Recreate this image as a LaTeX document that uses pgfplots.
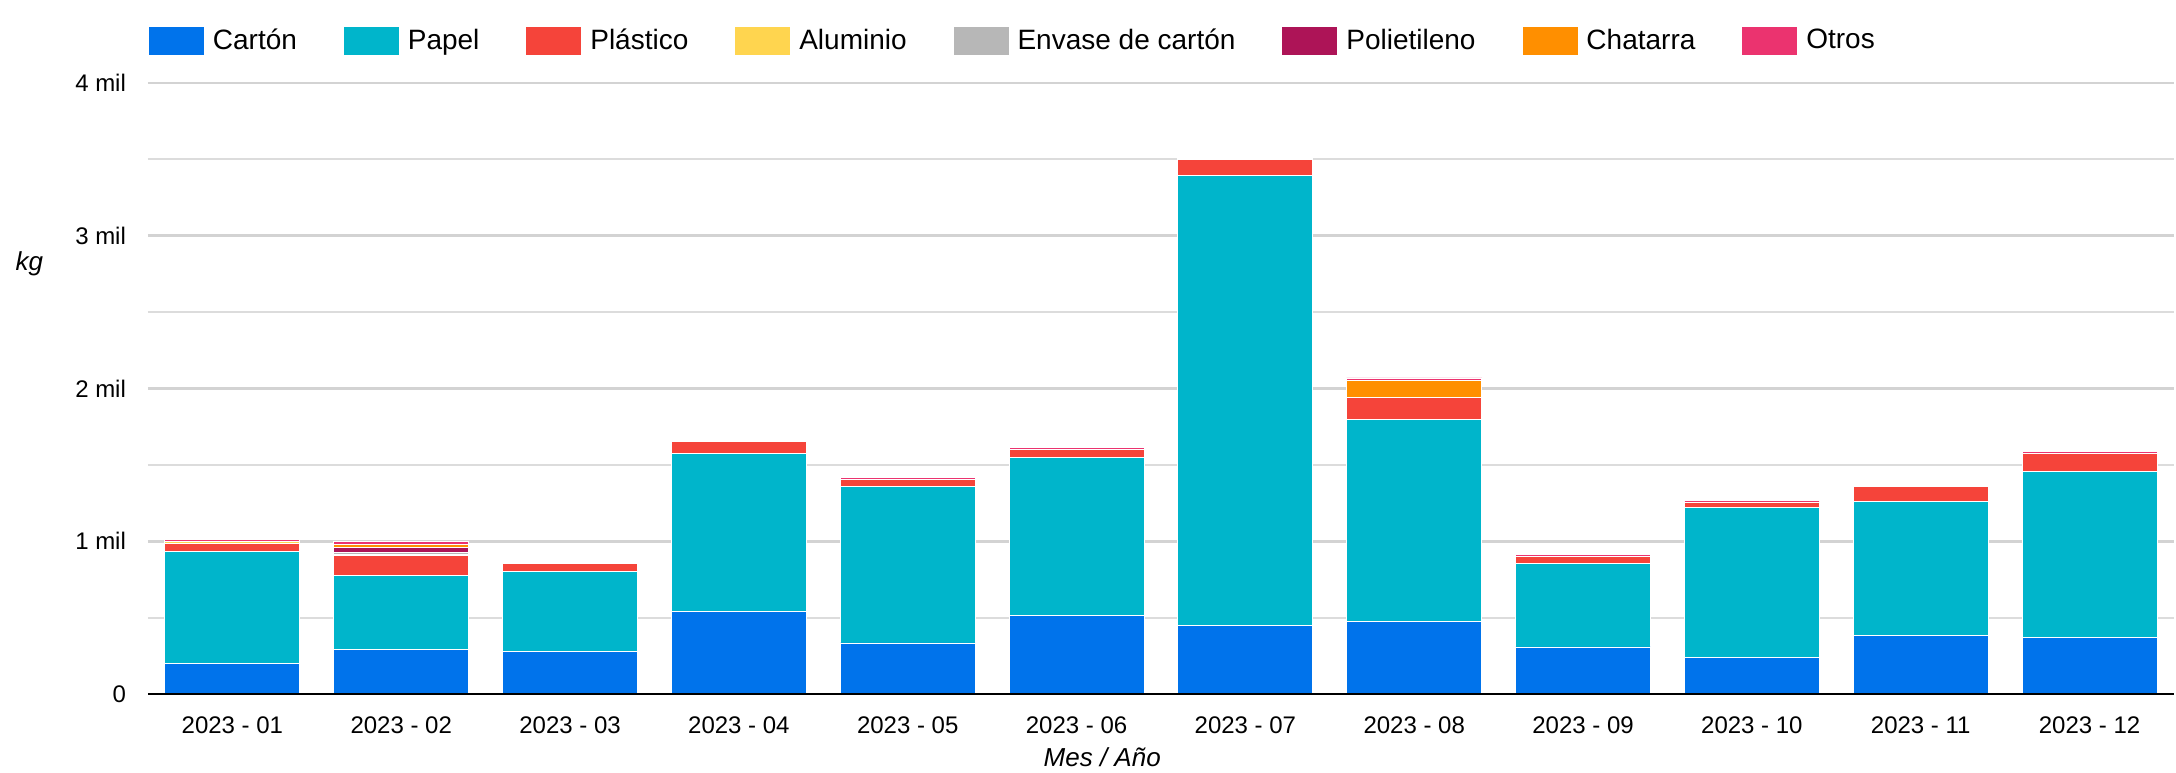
\documentclass[border=0pt]{standalone}
\usepackage{pgfplots}
\usepackage{pgfplotstable}
\pgfplotsset{compat=1.18}
\usepackage{fontspec}
\setmainfont{Liberation Sans}
\definecolor{cCarton}{HTML}{0073EB}
\definecolor{cPapel}{HTML}{00B5CB}
\definecolor{cPlastico}{HTML}{F5443A}
\definecolor{cAluminio}{HTML}{FFD54F}
\definecolor{cEnvase}{HTML}{B7B7B7}
\definecolor{cPoli}{HTML}{AD1457}
\definecolor{cChatarra}{HTML}{FF8F00}
\definecolor{cOtros}{HTML}{EB336F}
\definecolor{cGrid}{HTML}{D3D3D3}
\pgfplotstableread{
x carton papel plastico aluminio envase polietileno chatarra otros
0 201 731 55 9 0 0 0 15
1 290 484 131 10 10 35 22 14
2 279 524 52 6 0 0 0 8
3 541 1032 78 8 0 0 0 10
4 334 1023 45 0 0 0 0 15
5 517 1030 55 0 0 0 0 11
6 449 2945 103 0 0 0 0 8
7 475 1321 144 0 0 0 115 14
8 308 545 47 0 0 0 0 13
9 242 978 37 0 0 0 0 13
10 386 873 98 0 0 0 0 8
11 373 1082 120 0 0 0 0 12
}\datatable
\begin{document}
\begin{tikzpicture}
\begin{axis}[
  scale only axis,
  width=1013pt, height=305.5pt,
  xmin=-0.5, xmax=11.5,
  ymin=0, ymax=4000,
  ybar stacked,
  bar width=0.8,
  axis line style={draw=none},
  major tick length=0pt, minor tick length=0pt,
  xtick=data,
  xticklabels={2023 - 01,2023 - 02,2023 - 03,2023 - 04,2023 - 05,2023 - 06,2023 - 07,2023 - 08,2023 - 09,2023 - 10,2023 - 11,2023 - 12},
  xticklabel style={font=\fontsize{12}{14}\selectfont, yshift=-8pt},
  ytick={0,1000,2000,3000,4000},
  yticklabels={0,1 mil,2 mil,3 mil,4 mil},
  minor ytick={500,1500,2500,3500},
  yticklabel style={font=\fontsize{12}{14}\selectfont, xshift=-7.5pt},
  ymajorgrids, yminorgrids,
  major grid style={cGrid, line width=1.3pt},
  minor grid style={cGrid!80, line width=1.1pt},
  ylabel={kg},
  ylabel style={rotate=-90, font=\itshape\fontsize{13}{15}\selectfont, at={(axis description cs:-0.0585,0.7038)}, anchor=center},
  xlabel={Mes / Año},
  xlabel style={font=\itshape\fontsize{13}{15}\selectfont, at={(axis description cs:0.471,-0.104)}, anchor=center},
  legend columns=8,
  legend cell align=left,
  legend style={at={(axis description cs:0,1.0696)}, anchor=west, draw=none, fill=none,
    inner sep=0pt, outer sep=0pt,
    font=\fontsize{14}{16}\selectfont,
    column sep=2pt,
    /tikz/every even column/.append style={column sep=21pt}},
  legend image code/.code={\fill[#1] (0pt,-7.25pt) rectangle (28pt,7.25pt);},
  every axis plot/.append style={draw=white, line width=0.45pt},
]
\addplot[fill=cCarton] table[x=x,y=carton]{\datatable};
\addplot[fill=cPapel] table[x=x,y=papel]{\datatable};
\addplot[fill=cPlastico] table[x=x,y=plastico]{\datatable};
\addplot[fill=cAluminio] table[x=x,y=aluminio]{\datatable};
\addplot[fill=cEnvase] table[x=x,y=envase]{\datatable};
\addplot[fill=cPoli] table[x=x,y=polietileno]{\datatable};
\addplot[fill=cChatarra] table[x=x,y=chatarra]{\datatable};
\addplot[fill=cOtros] table[x=x,y=otros]{\datatable};
\legend{Cartón,Papel,Plástico,Aluminio,Envase de cartón,Polietileno,Chatarra,Otros}
\end{axis}
\draw[black, line width=1pt] (current axis.south west) -- (current axis.south east);
\pgfresetboundingbox
\useasboundingbox (-74pt,-39pt) rectangle (1014pt,347pt);
\end{tikzpicture}
\end{document}
